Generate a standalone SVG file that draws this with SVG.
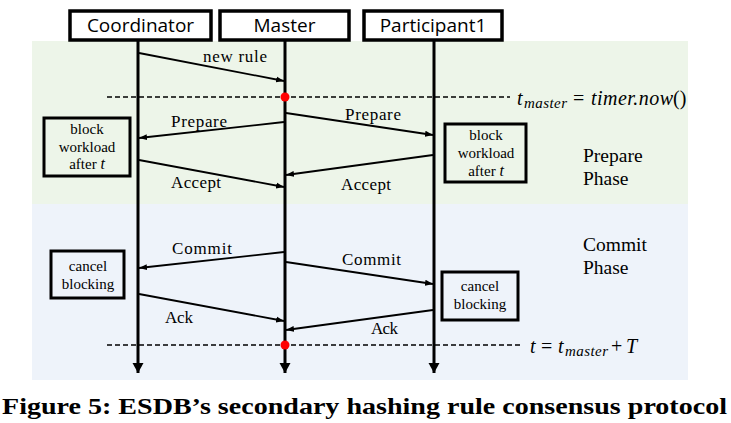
<svg xmlns="http://www.w3.org/2000/svg" width="731" height="423" viewBox="0 0 731 423">
<defs>
<marker id="ah" markerUnits="userSpaceOnUse" markerWidth="9" markerHeight="7" refX="8" refY="3.5" orient="auto"><path d="M0,0.5 L8,3.5 L0,6.5 z" fill="#000"/></marker>
<marker id="lh" markerUnits="userSpaceOnUse" markerWidth="12" markerHeight="12" refX="10" refY="5.5" orient="auto"><path d="M0,0 L10,5.5 L0,11 z" fill="#000"/></marker>
<style>
.hdr{fill:#fff;stroke:#000;stroke-width:3.5}
.hdrt{font-family:"Open Sans","Liberation Sans",sans-serif;font-size:19px;text-anchor:middle;fill:#000}
.life{stroke:#000;stroke-width:3;fill:none}
.msg{stroke:#000;stroke-width:1.8;fill:none;marker-end:url(#ah)}
.lbl{font-family:"Liberation Serif",serif;font-size:17px;fill:#000}
.note{fill:none;stroke:#000;stroke-width:3}
.nt{font-family:"Liberation Serif",serif;font-size:15px;text-anchor:middle;fill:#000}
.ph{font-family:"Liberation Serif",serif;font-size:19.5px;fill:#000}
.dash{stroke:#000;stroke-width:1.3;stroke-dasharray:5,3;fill:none}
.m{font-family:"Liberation Serif",serif;font-style:italic;font-size:20px;fill:#000}
.ms{font-size:15px}
.up{font-style:normal}
</style>
</defs>
<rect x="32" y="41" width="656" height="163" fill="#edf5e9"/>
<rect x="32" y="204" width="656" height="176" fill="#eef3fa"/>
<g id="coordinator">
<rect class="hdr" x="70" y="11" width="141" height="29"/>
<text class="hdrt" x="140.5" y="32">Coordinator</text>
<line class="life" x1="138" y1="41" x2="138" y2="373" marker-end="url(#lh)"/>
</g>
<g id="master">
<rect class="hdr" x="220" y="11" width="129" height="29"/>
<text class="hdrt" x="284.5" y="32">Master</text>
<line class="life" x1="285" y1="41" x2="285" y2="373" marker-end="url(#lh)"/>
</g>
<g id="participant1">
<rect class="hdr" x="364" y="11" width="138" height="29"/>
<text class="hdrt" x="433" y="32">Participant1</text>
<line class="life" x1="434" y1="41" x2="434" y2="373" marker-end="url(#lh)"/>
</g>
<g id="connectors">
<line class="msg" x1="139" y1="53" x2="284" y2="81"/>
<line class="msg" x1="284" y1="122" x2="139" y2="138"/>
<line class="msg" x1="286" y1="113" x2="433" y2="135"/>
<line class="msg" x1="139" y1="160" x2="284" y2="187"/>
<line class="msg" x1="433" y1="155" x2="286" y2="175"/>
<line class="msg" x1="284" y1="252" x2="139" y2="268"/>
<line class="msg" x1="286" y1="262" x2="433" y2="284"/>
<line class="msg" x1="139" y1="294" x2="284" y2="321"/>
<line class="msg" x1="433" y1="310" x2="286" y2="330"/>
<text class="lbl" x="203" y="62" textLength="64">new rule</text>
<text class="lbl" x="171" y="127" textLength="56">Prepare</text>
<text class="lbl" x="345" y="120" textLength="56">Prepare</text>
<text class="lbl" x="171" y="188" textLength="50">Accept</text>
<text class="lbl" x="341" y="190" textLength="50">Accept</text>
<text class="lbl" x="172" y="254" textLength="60">Commit</text>
<text class="lbl" x="342" y="265" textLength="59">Commit</text>
<text class="lbl" x="165" y="323" textLength="28">Ack</text>
<text class="lbl" x="371" y="334" textLength="27">Ack</text>
</g>
<g id="tmaster">
<line class="dash" x1="107" y1="97" x2="510" y2="97"/>
<circle cx="285" cy="97" r="4.5" fill="#f00"/>
<text class="m" y="105"><tspan x="517">t</tspan><tspan class="ms" x="524" y="108" textLength="43">master</tspan><tspan class="up" x="573" y="105">=</tspan><tspan x="591" y="105" textLength="82">timer.now</tspan><tspan class="up" x="673" y="105">()</tspan></text>
</g>
<g id="tend">
<line class="dash" x1="107" y1="345" x2="522" y2="345"/>
<circle cx="285" cy="345" r="4.5" fill="#f00"/>
<text class="m" y="353"><tspan x="530">t</tspan><tspan class="up" x="541">=</tspan><tspan x="558">t</tspan><tspan class="ms" x="565" y="356" textLength="43">master</tspan><tspan class="up" x="611" y="353">+</tspan><tspan x="626" y="353">T</tspan></text>
</g>
<g id="block-coordinator">
<rect class="note" x="44" y="118" width="86" height="58"/>
<text class="nt" x="87" y="134">block</text>
<text class="nt" x="87" y="152">workload</text>
<text class="nt" x="87" y="169">after <tspan font-style="italic" font-size="16">t</tspan></text>
</g>
<g id="block-participant">
<rect class="note" x="445" y="124" width="81" height="58"/>
<text class="nt" x="486" y="140">block</text>
<text class="nt" x="486" y="158">workload</text>
<text class="nt" x="486" y="176">after <tspan font-style="italic" font-size="16">t</tspan></text>
</g>
<g id="cancel-coordinator">
<rect class="note" x="51" y="251" width="73" height="47"/>
<text class="nt" x="88" y="271">cancel</text>
<text class="nt" x="88" y="289">blocking</text>
</g>
<g id="cancel-participant">
<rect class="note" x="442" y="272" width="76" height="48"/>
<text class="nt" x="480" y="291">cancel</text>
<text class="nt" x="480" y="309">blocking</text>
</g>
<g id="phases">
<text class="ph" x="583" y="162">Prepare</text>
<text class="ph" x="583" y="185">Phase</text>
<text class="ph" x="583" y="251">Commit</text>
<text class="ph" x="583" y="274">Phase</text>
</g>
<text x="2" y="414" textLength="725" lengthAdjust="spacingAndGlyphs" font-family="Liberation Serif,serif" font-weight="bold" font-size="23" fill="#000">Figure 5: ESDB’s secondary hashing rule consensus protocol</text>
</svg>
